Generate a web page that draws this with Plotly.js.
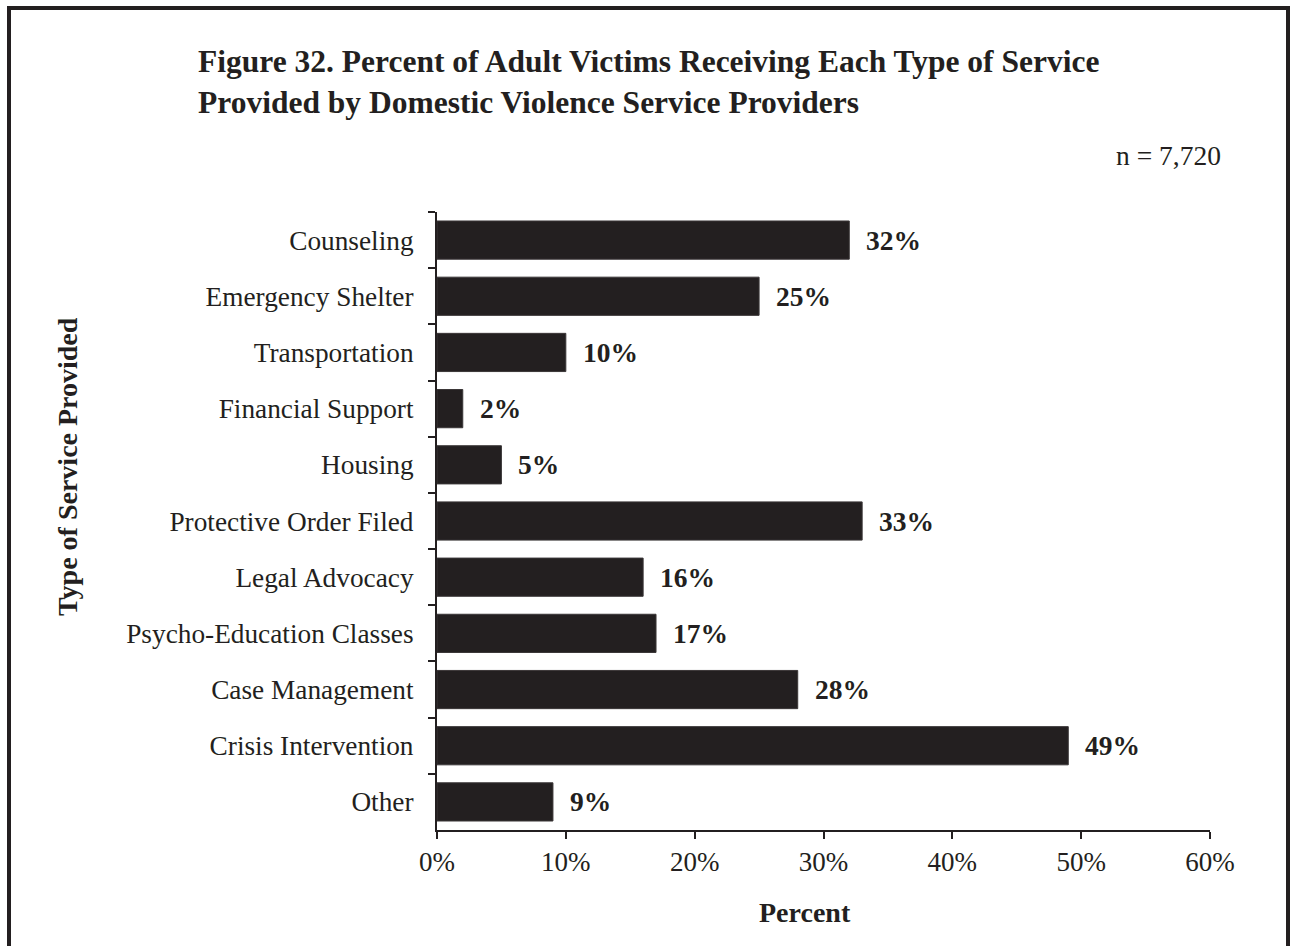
<!DOCTYPE html>
<html>
<head>
<meta charset="utf-8">
<script src="https://cdn.plot.ly/plotly-3.0.1.min.js"></script>
<style>
  html, body { margin: 0; padding: 0; background: #fff; }
  #wrap { position: relative; width: 1290px; height: 946px; overflow: hidden; }
  #chart { position: absolute; left: 0; top: 0; width: 1290px; height: 946px; }
  #frame { position: absolute; left: 7px; top: 6px; width: 1275px; height: 1000px;
           border: 4px solid #231f20; pointer-events: none; z-index: 10; }
</style>
</head>
<body>
<div id="wrap">
  <div id="chart"></div>
  <div id="frame"></div>
</div>
<script>
const categories = [
  "Counseling",
  "Emergency Shelter",
  "Transportation",
  "Financial Support",
  "Housing",
  "Protective Order Filed",
  "Legal Advocacy",
  "Psycho-Education Classes",
  "Case Management",
  "Crisis Intervention",
  "Other"
];
const values = [32, 25, 10, 2, 5, 33, 16, 17, 28, 49, 9];
const valueLabels = ["32%", "25%", "10%", "2%", "5%", "33%", "16%", "17%", "28%", "49%", "9%"];
const xTickValues = [0, 10, 20, 30, 40, 50, 60];
const xTickLabels = ["0%", "10%", "20%", "30%", "40%", "50%", "60%"];
const titleText = "Figure 32. Percent of Adult Victims Receiving Each Type of Service<br>Provided by Domestic Violence Service Providers";
const nText = "n = 7,720";
const xTitle = "Percent";
const yTitle = "Type of Service Provided";

const ink = "#231f20";
const serif = "Liberation Serif, Times New Roman, serif";

const W = 1290, H = 946;
const M = { l: 437, r: 80, t: 212, b: 116 };
const pw = W - M.l - M.r, ph = H - M.t - M.b;
const px = x => (x - M.l) / pw;
const py = y => 1 - (y - M.t) / ph;

const trace = {
  type: "bar",
  orientation: "h",
  x: values,
  y: categories,
  marker: { color: ink, line: { color: "#3a3637", width: 1 } },
  hoverinfo: "none"
};

const annotations = categories.map((c, i) => ({
  x: values[i], y: c, xref: "x", yref: "y",
  text: "<b>" + valueLabels[i] + "</b>",
  showarrow: false, xanchor: "left", yanchor: "middle", xshift: 15,
  font: { family: serif, size: 27.5, color: ink }
}));
annotations.push({
  xref: "paper", yref: "paper", x: px(1223), y: py(155), xanchor: "right", yanchor: "middle",
  text: nText, showarrow: false, font: { family: serif, size: 27.5, color: ink }
});
annotations.push({
  xref: "paper", yref: "paper", x: px(805), y: py(912), xanchor: "center", yanchor: "middle",
  text: "<b>" + xTitle + "</b>", showarrow: false, font: { family: serif, size: 28, color: ink }
});
annotations.push({
  xref: "paper", yref: "paper", x: px(67), y: py(467),
  xanchor: "center", yanchor: "middle", textangle: -90,
  text: "<b>" + yTitle + "</b>", showarrow: false,
  font: { family: serif, size: 28, color: ink }
});

const layout = {
  width: W, height: H,
  paper_bgcolor: "#fff", plot_bgcolor: "#fff",
  margin: { l: M.l, r: M.r, t: M.t, b: M.b, pad: 0 },
  showlegend: false,
  bargap: 0.32,
  font: { family: serif, color: ink, size: 27 },
  title: {
    text: "<b>" + titleText + "</b>",
    xref: "container", yref: "container",
    x: 198 / W, xanchor: "left",
    y: 1 - 72 / H, yanchor: "top",
    font: { family: serif, size: 31.5, color: ink }
  },
  xaxis: {
    range: [0, 60], fixedrange: true,
    tickvals: xTickValues, ticktext: xTickLabels,
    ticks: "outside", ticklen: 7, tickwidth: 2, tickcolor: ink,
    showline: true, linewidth: 2, linecolor: ink,
    showgrid: false, zeroline: false,
    tickfont: { family: serif, size: 27, color: ink }
  },
  yaxis: {
    autorange: "reversed", fixedrange: true,
    ticks: "outside", tickson: "boundaries", ticklen: 7, tickwidth: 2, tickcolor: ink,
    showline: true, linewidth: 2, linecolor: ink,
    showgrid: false, zeroline: false,
    ticklabelstandoff: 16,
    tickfont: { family: serif, size: 27.3, color: ink }
  },
  annotations: annotations
};

Plotly.newPlot("chart", [trace], layout, { displayModeBar: false, staticPlot: true });
</script>
</body>
</html>
